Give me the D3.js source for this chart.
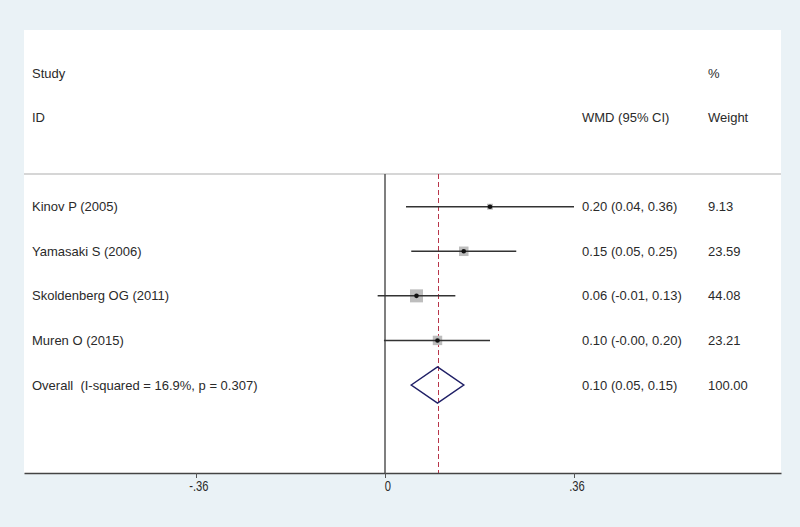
<!DOCTYPE html>
<html>
<head>
<meta charset="utf-8">
<script src="https://cdn.jsdelivr.net/npm/d3@7"></script>
<style>
  body { margin: 0; background: #eaf2f6; }
  text { font-family: "Liberation Sans", Arial, sans-serif; fill: #2a2a2a; white-space: pre; }
</style>
</head>
<body>
<div id="graphic"></div>
<script>
var studies = ["Kinov P (2005)", "Yamasaki S (2006)", "Skoldenberg OG (2011)", "Muren O (2015)"];
var estimates = [0.20, 0.15, 0.06, 0.10];
var lowers = [0.04, 0.05, -0.014, -0.002];
var uppers = [0.36, 0.25, 0.134, 0.20];
var ciLabels = ["0.20 (0.04, 0.36)", "0.15 (0.05, 0.25)", "0.06 (-0.01, 0.13)", "0.10 (-0.00, 0.20)"];
var weights = [9.13, 23.59, 44.08, 23.21];

var overallLabel = "Overall  (I-squared = 16.9%, p = 0.307)";
var overall = { est: 0.10, lo: 0.05, hi: 0.15, label: "0.10 (0.05, 0.15)", weight: "100.00" };

var tickValues = [-0.36, 0, 0.36];
var tickLabels = ["-.36", "0", ".36"];

var width = 800;
var height = 527;
var panel = { left: 24, right: 781, top: 30, bottom: 473 };
var sepY = 174;
var xLabel = 32;
var xCI = 582;
var xWeight = 708;

var svg = d3.select("#graphic")
  .append("svg")
  .attr("width", width)
  .attr("height", height);

svg.append("rect")
  .attr("x", panel.left)
  .attr("y", panel.top)
  .attr("width", panel.right - panel.left)
  .attr("height", panel.bottom - panel.top)
  .attr("fill", "#fff");

// rows: Study, ID, blank, 4 studies, overall
var rows = ["study", "id", "blank"].concat(studies).concat(["overall"]);
var yScale = d3.scalePoint()
  .domain(rows)
  .range([73, 385]);

// ticks sit at 196 / 385 / 574, then stretch the axis to the panel edges
var xScale = d3.scaleLinear()
  .domain([-0.36, 0.36])
  .range([196, 574]);
var xLo = xScale.invert(panel.left);
var xHi = xScale.invert(panel.right);
xScale.domain([xLo, xHi]).range([panel.left, panel.right]);

var sizeScale = d3.scaleSqrt()
  .domain([0, 44.08])
  .range([0, 13]);

function addText(x, y, str) {
  return svg.append("text")
    .attr("x", x)
    .attr("y", y)
    .attr("dy", "0.35em")
    .style("font-size", "13px")
    .text(str);
}
addText(xLabel, yScale("study"), "Study");
addText(xLabel, yScale("id"), "ID");
addText(xCI, yScale("id"), "WMD (95% CI)");
addText(xWeight, yScale("study"), "%");
addText(xWeight, yScale("id"), "Weight");

// separator
svg.append("line")
  .attr("x1", panel.left).attr("x2", panel.right)
  .attr("y1", sepY).attr("y2", sepY)
  .attr("stroke", "#c8c8c8")
  .attr("stroke-width", 1.5);

// zero line
svg.append("line")
  .attr("x1", xScale(0)).attr("x2", xScale(0))
  .attr("y1", sepY).attr("y2", panel.bottom)
  .attr("stroke", "#555")
  .attr("stroke-width", 1.5);

// overall dashed line
svg.append("line")
  .attr("x1", Math.round(xScale(overall.est)) + 0.5).attr("x2", Math.round(xScale(overall.est)) + 0.5)
  .attr("y1", sepY).attr("y2", panel.bottom)
  .attr("stroke", "#b8354a")
  .attr("stroke-width", 1)
  .attr("stroke-dasharray", "5,3");

var data = studies.map(function(s, i) {
  return { study: s, est: estimates[i], lo: lowers[i], hi: uppers[i], label: ciLabels[i], weight: weights[i] };
});

var rowG = svg.append("g")
  .selectAll("g")
  .data(data)
  .join("g");

rowG.append("rect")
  .attr("x", d => xScale(d.est) - sizeScale(d.weight) / 2)
  .attr("y", d => yScale(d.study) - sizeScale(d.weight) / 2)
  .attr("width", d => sizeScale(d.weight))
  .attr("height", d => sizeScale(d.weight))
  .attr("fill", "#bdbdbd");

rowG.append("line")
  .attr("x1", d => xScale(d.lo))
  .attr("x2", d => xScale(d.hi))
  .attr("y1", d => yScale(d.study))
  .attr("y2", d => yScale(d.study))
  .attr("stroke", "#333")
  .attr("stroke-width", 1.5);

rowG.append("circle")
  .attr("cx", d => xScale(d.est))
  .attr("cy", d => yScale(d.study))
  .attr("r", 2.3)
  .attr("fill", "#111");

rowG.append("text")
  .attr("x", xLabel)
  .attr("y", d => yScale(d.study))
  .attr("dy", "0.35em")
  .style("font-size", "13px")
  .text(d => d.study);

rowG.append("text")
  .attr("x", xCI)
  .attr("y", d => yScale(d.study))
  .attr("dy", "0.35em")
  .style("font-size", "13px")
  .text(d => d.label);

rowG.append("text")
  .attr("x", xWeight)
  .attr("y", d => yScale(d.study))
  .attr("dy", "0.35em")
  .style("font-size", "13px")
  .text(d => d.weight.toFixed(2));

// overall diamond
var oy = yScale("overall");
var halfH = 18;
svg.append("path")
  .attr("d", "M" + xScale(overall.lo) + "," + oy +
    "L" + xScale(overall.est) + "," + (oy - halfH) +
    "L" + xScale(overall.hi) + "," + oy +
    "L" + xScale(overall.est) + "," + (oy + halfH) + "Z")
  .attr("fill", "none")
  .attr("stroke", "#1f1f66")
  .attr("stroke-width", 1.5);

addText(xLabel, oy, overallLabel);
addText(xCI, oy, overall.label);
addText(xWeight, oy, overall.weight);

// x axis
var xAxis = svg.append("g")
  .attr("transform", "translate(0," + panel.bottom + ")")
  .call(d3.axisBottom(xScale)
    .tickValues(tickValues)
    .tickFormat((d, i) => tickLabels[i])
    .tickSize(5)
    .tickSizeOuter(0));

xAxis.select(".domain")
  .attr("stroke", "#444")
  .attr("stroke-width", 1.5);
xAxis.selectAll(".tick line")
  .attr("stroke", "#555");
xAxis.selectAll(".tick text")
  .attr("y", 8)
  .attr("x", 3)
  .style("font-size", "14px")
  .attr("transform", "scale(0.8,1)")
  .attr("fill", "#2a2a2a");
</script>
</body>
</html>
